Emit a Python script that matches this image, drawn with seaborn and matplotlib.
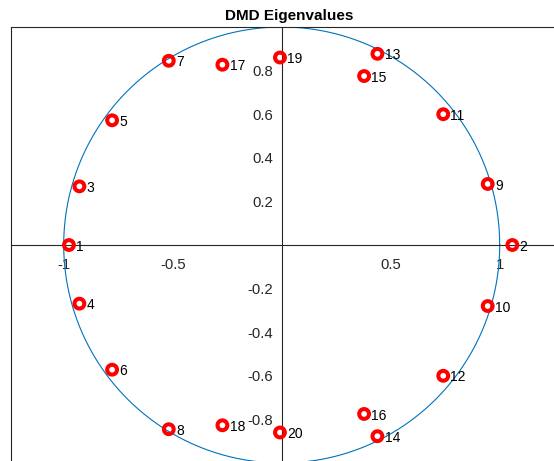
import numpy as np
import pandas as pd
import matplotlib
matplotlib.use("Agg")
import matplotlib.pyplot as plt
import seaborn as sns

# DMD eigenvalues (real and imaginary parts), in computed order
eig_index = list(range(1, 21))
eig_real = [-0.976, 1.058, -0.928, -0.928, -0.778, -0.778, -0.518, -0.518,
            0.945, 0.945, 0.741, 0.741, 0.439, 0.439, 0.378, 0.378,
            -0.272, -0.272, -0.008, -0.008]
eig_imag = [0.0, 0.0, 0.269, -0.269, 0.572, -0.572, 0.845, -0.845,
            0.280, -0.280, 0.600, -0.600, 0.877, -0.877, 0.775, -0.775,
            0.827, -0.827, 0.860, -0.860]

x_ticks = [-1, -0.5, 0.5, 1]
x_tick_labels = ["-1", "-0.5", "0.5", "1"]
y_ticks = [-0.8, -0.6, -0.4, -0.2, 0.2, 0.4, 0.6, 0.8]
y_tick_labels = ["-0.8", "-0.6", "-0.4", "-0.2", "0.2", "0.4", "0.6", "0.8"]

sns.set_style("white")
plt.rcParams["font.family"] = ["Liberation Sans", "DejaVu Sans"]

axis_color = "#262626"
W, H = 554, 461
fig = plt.figure(figsize=(W / 100, H / 100), dpi=100)

# axes placed in pixels: origin at (281.7, 245), 218 px per unit
px_unit = 218.0
ox, oy = 281.7, 245.0
left_px, right_px = 11.0, 567.0
top_px, bottom_px = 27.0, 463.0
ax = fig.add_axes([left_px / W, (H - bottom_px) / H,
                   (right_px - left_px) / W, (bottom_px - top_px) / H])
ax.set_xlim((left_px - ox) / px_unit, (right_px - ox) / px_unit)
ax.set_ylim((oy - bottom_px) / px_unit, (oy - top_px) / px_unit)

# unit circle
theta = np.linspace(0, 2 * np.pi, 600)
circle = pd.DataFrame({"re": np.cos(theta), "im": np.sin(theta)})
sns.lineplot(data=circle, x="re", y="im", sort=False, estimator=None,
             color="#0072BD", linewidth=0.8, ax=ax, zorder=2)

# eigenvalues
eigs = pd.DataFrame({"idx": eig_index, "re": eig_real, "im": eig_imag})
sns.scatterplot(data=eigs, x="re", y="im", marker="o", s=50,
                facecolor="none", edgecolor="#FF0000", linewidth=2.9,
                ax=ax, zorder=3)
for i, re, im in zip(eig_index, eig_real, eig_imag):
    ax.annotate(str(i), (re, im), xytext=(5.2, -1.2),
                textcoords="offset points", fontsize=10, color="black",
                ha="left", va="center", zorder=4)

# axes crossing at the origin, box edges on the left and top
for side in ["left", "bottom"]:
    ax.spines[side].set_position(("data", 0))
    ax.spines[side].set_color(axis_color)
    ax.spines[side].set_linewidth(0.8)
    ax.spines[side].set_visible(True)
ax.spines["top"].set_visible(True)
ax.spines["top"].set_color(axis_color)
ax.spines["top"].set_linewidth(0.8)
ax.spines["right"].set_visible(False)
ax.plot([0, 0], [0, 1], transform=ax.transAxes, color=axis_color,
        linewidth=0.8, clip_on=False, zorder=5)

ax.set_xticks(x_ticks)
ax.set_xticklabels(x_tick_labels)
ax.set_yticks(y_ticks)
ax.set_yticklabels(y_tick_labels)
ax.tick_params(axis="both", direction="in", length=3.6, width=0.8,
               colors=axis_color, labelsize=10.7)
ax.tick_params(axis="x", pad=9)
ax.tick_params(axis="y", pad=6)
ax.set_xlabel("")
ax.set_ylabel("")

ax.set_title("DMD Eigenvalues", fontsize=11, fontweight="bold",
             color="black", pad=5)

fig.savefig("out.png", dpi=100)
